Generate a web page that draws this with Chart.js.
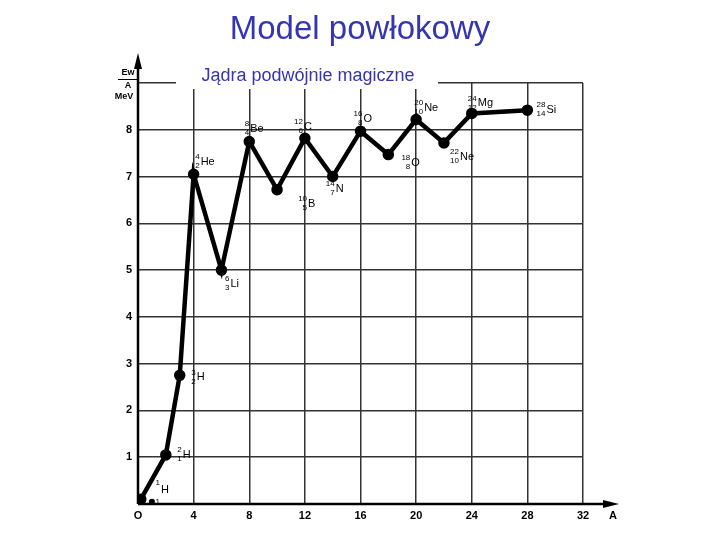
<!DOCTYPE html>
<html>
<head>
<meta charset="utf-8">
<script src="https://cdn.jsdelivr.net/npm/chart.js@4/dist/chart.umd.min.js"></script>
<style>
  body { margin: 0; background: #fff; }
  #wrap { position: relative; width: 720px; height: 540px; }
</style>
</head>
<body>
<div id="wrap"><canvas id="c" width="720" height="540"></canvas></div>
<script>
// binding energy per nucleon
const massNumbers = [0.2, 2, 3, 4, 6, 8, 10, 12, 14, 16, 18, 20, 22, 24, 28];
const energyPerNucleon = [0.1, 1.05, 2.75, 7.05, 5.0, 7.75, 6.72, 7.82, 7.0, 7.97, 7.47, 8.22, 7.72, 8.35, 8.42];
const nuclideMass = ['', '2', '3', '4', '6', '8', '10', '12', '14', '16', '18', '20', '22', '24', '28'];
const nuclideZ = ['', '1', '2', '2', '3', '4', '5', '6', '7', '8', '8', '10', '10', '12', '14'];
const nuclideSymbol = ['', 'H', 'H', 'He', 'Li', 'Be', 'B', 'C', 'N', 'O', 'O', 'Ne', 'Ne', 'Mg', 'Si'];
// label offset in px relative to point
const labelOffset = [[0,0],[6,0],[6,2],[-4,-12],[-2,14],[-10,-13],[20,14],[-12,-11],[-8,12],[-8,-12],[12,8],[-3,-12],[5,14],[-5,-10],[8,0]];
const xTicks = [0, 4, 8, 12, 16, 20, 24, 28, 32];
const yTicks = [1, 2, 3, 4, 5, 6, 7, 8];

const overlay = {
  id: 'overlay',
  afterDraw(chart) {
    const ctx = chart.ctx, xs = chart.scales.x, ys = chart.scales.y, a = chart.chartArea;
    ctx.save();
    ctx.strokeStyle = '#000';
    ctx.fillStyle = '#000';
    ctx.lineWidth = 2.5;
    // axes with arrows
    ctx.beginPath();
    ctx.moveTo(a.left, a.bottom); ctx.lineTo(a.right + 28, a.bottom);
    ctx.moveTo(a.left, a.bottom); ctx.lineTo(a.left, a.top - 22);
    ctx.stroke();
    ctx.beginPath();
    ctx.moveTo(a.right + 36, a.bottom); ctx.lineTo(a.right + 20, a.bottom - 4); ctx.lineTo(a.right + 20, a.bottom + 4); ctx.fill();
    ctx.beginPath();
    ctx.moveTo(a.left, a.top - 30); ctx.lineTo(a.left - 4, a.top - 14); ctx.lineTo(a.left + 4, a.top - 14); ctx.fill();

    ctx.font = 'bold 11px "Liberation Sans", Arial';
    ctx.textAlign = 'center'; ctx.textBaseline = 'top';
    xTicks.forEach(v => ctx.fillText(v === 0 ? 'O' : String(v), xs.getPixelForValue(v), a.bottom + 6));
    ctx.fillText('A', a.right + 30, a.bottom + 6);
    ctx.textAlign = 'right'; ctx.textBaseline = 'middle';
    yTicks.forEach(v => ctx.fillText(String(v), a.left - 6, ys.getPixelForValue(v)));
    ctx.font = 'bold 9px "Liberation Sans", Arial';
    ctx.textAlign = 'center';
    ctx.fillText('Ew', a.left - 10, a.top - 10);
    ctx.fillRect(a.left - 20, a.top - 4, 20, 1);
    ctx.fillText('A', a.left - 10, a.top + 3);
    ctx.fillText('MeV', a.left - 14, a.top + 14);

    // nuclide labels
    massNumbers.forEach((m, i) => {
      if (!nuclideSymbol[i]) return;
      const px = xs.getPixelForValue(m) + labelOffset[i][0];
      const py = ys.getPixelForValue(energyPerNucleon[i]) + labelOffset[i][1];
      ctx.textAlign = 'right'; ctx.textBaseline = 'middle';
      ctx.font = '8px "Liberation Sans", Arial';
      ctx.fillText(nuclideMass[i], px + 10, py - 5);
      ctx.fillText(nuclideZ[i], px + 10, py + 4);
      ctx.textAlign = 'left';
      ctx.font = '11px "Liberation Sans", Arial';
      ctx.fillText(nuclideSymbol[i], px + 11, py);
    });
    ctx.beginPath();
    ctx.arc(xs.getPixelForValue(1), ys.getPixelForValue(0.05), 3, 0, Math.PI * 2); ctx.fill();
    ctx.font = '8px "Liberation Sans", Arial'; ctx.textAlign = 'right';
    ctx.fillText('1', xs.getPixelForValue(1) + 8, ys.getPixelForValue(0.45));
    ctx.fillText('1', xs.getPixelForValue(1) + 8, ys.getPixelForValue(0.05));
    ctx.font = '11px "Liberation Sans", Arial'; ctx.textAlign = 'left';
    ctx.fillText('H', xs.getPixelForValue(1) + 9, ys.getPixelForValue(0.3));

    // titles
    ctx.fillStyle = '#fff';
    ctx.fillRect(176, a.top - 20, 262, 26);
    ctx.fillStyle = '#3535b0';
    ctx.textAlign = 'center'; ctx.textBaseline = 'middle';
    ctx.font = '18px "Liberation Sans", Arial';
    ctx.fillText('Jądra podwójnie magiczne', 308, 76);
    ctx.font = '33px "Liberation Sans", Arial';
    ctx.fillText('Model powłokowy', 360, 30);
    ctx.restore();
  }
};

new Chart(document.getElementById('c'), {
  type: 'line',
  data: {
    datasets: [{
      data: massNumbers.map((m, i) => ({ x: m, y: energyPerNucleon[i] })),
      borderColor: '#000',
      backgroundColor: '#000',
      borderWidth: 4.5,
      pointRadius: 3.5,
      tension: 0
    }]
  },
  options: {
    responsive: false,
    animation: false,
    layout: { padding: { left: 138, right: 137, top: 83, bottom: 36 } },
    plugins: { legend: { display: false }, tooltip: { enabled: false } },
    scales: {
      x: {
        type: 'linear', min: 0, max: 32,
        ticks: { display: false, stepSize: 4 },
        grid: { color: '#333', lineWidth: 1.5, drawTicks: false },
        border: { display: false }
      },
      y: {
        min: 0, max: 9,
        ticks: { display: false, stepSize: 1 },
        grid: { color: '#333', lineWidth: 1.5, drawTicks: false },
        border: { display: false }
      }
    }
  },
  plugins: [overlay]
});
</script>
</body>
</html>
